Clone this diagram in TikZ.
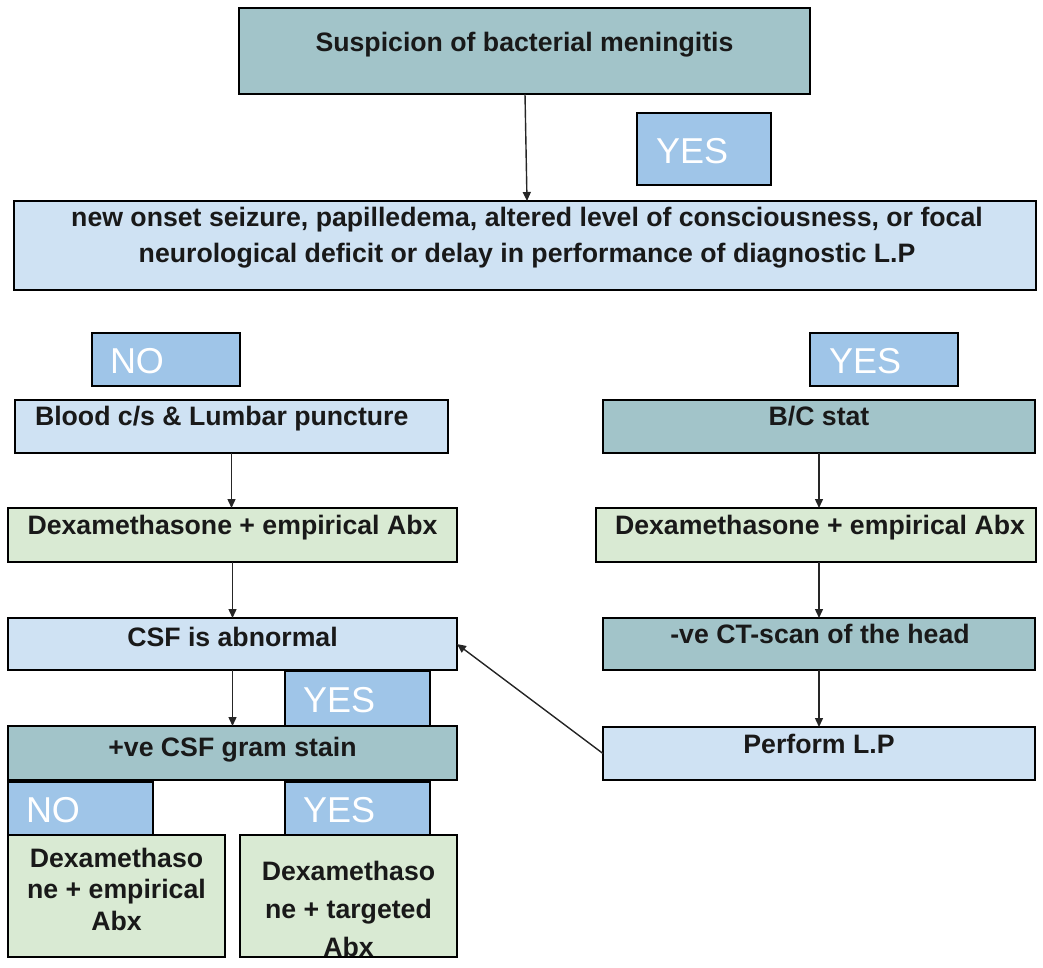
\documentclass[tikz,border=0pt]{standalone}
\usepackage{fontspec}
\setmainfont{Liberation Sans}
\usetikzlibrary{arrows.meta}
\definecolor{teal}{HTML}{A2C4C9}
\definecolor{lblue}{HTML}{CFE2F3}
\definecolor{lgreen}{HTML}{D9EAD3}
\definecolor{ansblue}{HTML}{9FC5E8}
\tikzset{
  box/.style={draw=black, line width=1.3pt, anchor=north west, inner sep=0pt, outer sep=0pt},
  tealbox/.style={box, fill=teal},
  bluebox/.style={box, fill=lblue},
  greenbox/.style={box, fill=lgreen},
  ansbox/.style={box, fill=ansblue},
  txt/.style={inner sep=0pt, outer sep=0pt, font=\fontsize{26.67}{31}\selectfont\bfseries, text=black!90},
  anstxt/.style={inner sep=0pt, outer sep=0pt, anchor=base west, font=\fontsize{36}{40}\selectfont, text=white},
  arr/.style={line width=1.4pt, draw=black!85, -{Triangle[length=9pt,width=8pt]}}
}
\begin{document}
\begin{tikzpicture}[x=1pt,y=-1pt]
\useasboundingbox (0,0) rectangle (1043,967);
% boxes
\node[tealbox, minimum width=571pt, minimum height=86pt] (top) at (239,8) {};
\node[ansbox, minimum width=134pt, minimum height=72pt] (yes1) at (637,113) {};
\node[bluebox, minimum width=1022pt, minimum height=89pt] (mid) at (14,201) {};
\node[ansbox, minimum width=148pt, minimum height=53pt] (no1) at (92,333) {};
\node[ansbox, minimum width=148pt, minimum height=53pt] (yes2) at (810,333) {};
\node[bluebox, minimum width=433pt, minimum height=53pt] (blood) at (15,400) {};
\node[tealbox, minimum width=432pt, minimum height=53pt] (bc) at (603,400) {};
\node[greenbox, minimum width=449pt, minimum height=54pt] (dexl) at (8,508) {};
\node[greenbox, minimum width=440pt, minimum height=54pt] (dexr) at (596,508) {};
\node[bluebox, minimum width=449pt, minimum height=52pt] (csf) at (8,618) {};
\node[tealbox, minimum width=432pt, minimum height=52pt] (ct) at (603,618) {};
\node[ansbox, minimum width=145pt, minimum height=55pt] (yes3) at (285,671) {};
\node[tealbox, minimum width=449pt, minimum height=54pt] (gram) at (8,726) {};
\node[bluebox, minimum width=432pt, minimum height=53pt] (perf) at (603,727) {};
\node[ansbox, minimum width=145pt, minimum height=53pt] (no2) at (8,782) {};
\node[ansbox, minimum width=145pt, minimum height=53pt] (yes4) at (285,782) {};
\node[greenbox, minimum width=217pt, minimum height=122pt] (dexe) at (8,835) {};
\node[greenbox, minimum width=217pt, minimum height=122pt] (dext) at (240,835) {};
% texts
\node[txt, anchor=base] (tsusp) at (524.5,51) {Suspicion of bacterial meningitis};
\node[txt, anchor=base] (tmid1) at (527,226) {new onset seizure, papilledema, altered level of consciousness, or focal};
\node[txt, anchor=base] (tmid2) at (527,262) {neurological deficit or delay in performance of diagnostic L.P};
\node[txt, anchor=base west] (tblood) at (35,425) {Blood c/s \& Lumbar puncture};
\node[txt, anchor=base] (tbc) at (819,425) {B/C stat};
\node[txt, anchor=base] (tdexl) at (232.5,534) {Dexamethasone + empirical Abx};
\node[txt, anchor=base] (tdexr) at (820,534) {Dexamethasone + empirical Abx};
\node[txt, anchor=base] (tcsf) at (232.5,646) {CSF is abnormal};
\node[txt, anchor=base] (tct) at (820,643) {-ve CT-scan of the head};
\node[txt, anchor=base] (tperf) at (819,753) {Perform L.P};
\node[txt, anchor=base] (tgram) at (232.5,756) {+ve CSF gram stain};
\node[txt, anchor=base] (tdexe1) at (116.5,867) {Dexamethaso};
\node[txt, anchor=base] (tdexe2) at (116.5,898) {ne + empirical};
\node[txt, anchor=base] (tdexe3) at (116.5,930) {Abx};
\node[txt, anchor=base] (tdext1) at (348.5,880) {Dexamethaso};
\node[txt, anchor=base] (tdext2) at (348.5,918) {ne + targeted};
\node[txt, anchor=base] (tdext3) at (348.5,956) {Abx};
\node[anstxt] (tyes1) at (656,163) {YES};
\node[anstxt] (tno1) at (110,373) {NO};
\node[anstxt] (tyes2) at (829,373) {YES};
\node[anstxt] (tyes3) at (303,712) {YES};
\node[anstxt] (tno2) at (26,822) {NO};
\node[anstxt] (tyes4) at (303,822) {YES};
% connectors
\draw[arr] ([xshift=0.5pt]top.south) -- ([xshift=2.5pt]top.south |- mid.north);
\draw[arr] (blood.south) -- (blood.south |- dexl.north);
\draw[arr] (dexl.south) -- (csf.north);
\draw[arr] (csf.south) -- (gram.north);
\draw[arr] (bc.south) -- (bc.south |- dexr.north);
\draw[arr] (bc.south |- dexr.south) -- (ct.north);
\draw[arr] (ct.south) -- (perf.north);
\draw[arr] (perf.west) -- (csf.east);
\end{tikzpicture}
\end{document}
